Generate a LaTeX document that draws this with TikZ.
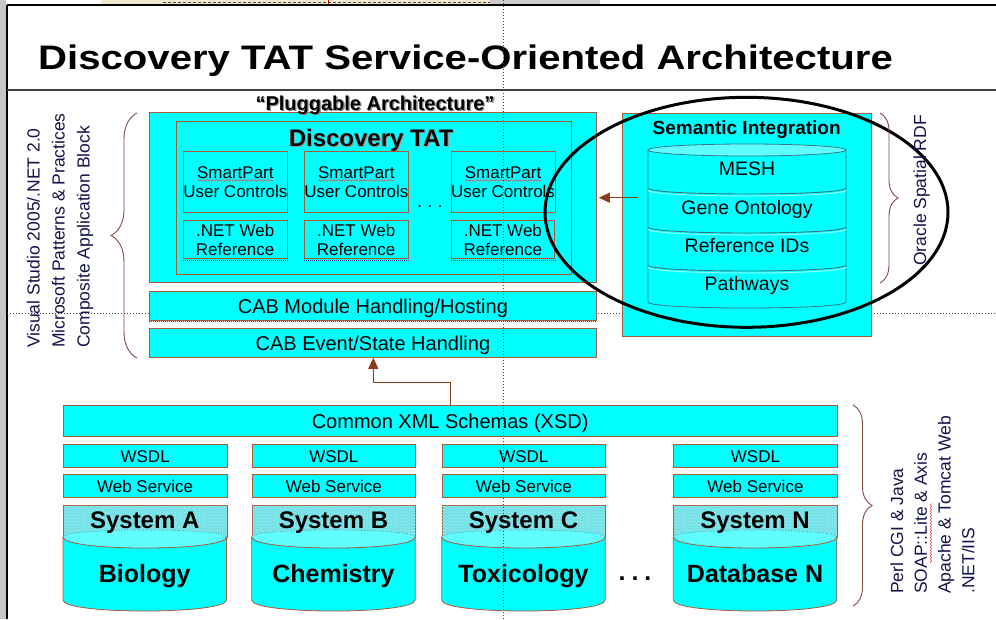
\documentclass[tikz,border=0pt]{standalone}
\usepackage{fontspec}
\setmainfont{Liberation Sans}
\usetikzlibrary{patterns,decorations.pathreplacing,decorations.pathmorphing,arrows.meta}

\definecolor{slidecyan}{RGB}{0,255,255}
\definecolor{topcyan}{RGB}{95,255,255}
\definecolor{edgebrown}{RGB}{170,90,55}
\definecolor{arrowbrown}{RGB}{140,60,30}
\definecolor{bracebrown}{RGB}{130,75,70}
\definecolor{labelnavy}{RGB}{20,20,75}
\definecolor{bandteal}{RGB}{55,120,135}
\definecolor{hatchcyan}{RGB}{120,222,228}
\definecolor{guidegray}{RGB}{70,70,70}
\definecolor{chromebeige}{RGB}{240,232,205}
\definecolor{shadowblue}{RGB}{60,60,170}

\tikzset{
  cbox/.style={draw=edgebrown, fill=slidecyan, line width=0.8pt, inner sep=0pt, anchor=north west},
  onefont/.style={font=\fontsize{20}{24}\selectfont, text height=14.3pt, text depth=0pt},
  smallfont/.style={font=\fontsize{17}{18.5}\selectfont, align=center},
  wsfont/.style={font=\fontsize{17}{20}\selectfont, text height=12.2pt, text depth=0pt},
  sysbox/.style={cbox, fill=hatchcyan, postaction={pattern=crosshatch dots, pattern color=white!55!slidecyan}},
  systext/.style={font=\fontsize{24}{28}\selectfont\bfseries, inner sep=0pt, anchor=base},
  dbtext/.style={font=\fontsize{25}{30}\selectfont\bfseries, text height=18pt, text depth=0pt, inner sep=0pt},
  bandtext/.style={font=\fontsize{19.5}{23}\selectfont, text height=14pt, text depth=0pt, inner sep=0pt},
  guide/.style={guidegray, line width=0.8pt, dash pattern=on 1pt off 2pt},
  sidebrace/.style={decorate, draw=bracebrown, line width=0.9pt},
  feed/.style={arrowbrown, line width=1pt, -{Triangle[length=11pt,width=10pt]}},
  sidelabel/.style={rotate=90, anchor=west, align=left, text=labelnavy, font=\fontsize{17.5}{24.5}\selectfont, inner sep=0pt},
  spell/.style={red!75, line width=0.5pt, decorate, decoration={snake, amplitude=0.8pt, segment length=3pt}},
  edgeshadow/.style={shadowblue, line width=0.7pt, dash pattern=on 1pt off 1pt},
}

\begin{document}
\begin{tikzpicture}[x=1pt,y=-1pt]
\useasboundingbox (0,0) rectangle (996,619);
\fill[white] (0,0) rectangle (996,619);

% window chrome along the top and left edges
\fill[gray!45] (0,0) rectangle (6,619);
\fill[chromebeige] (101,0) rectangle (490,4);
\draw[black!70, dash pattern=on 3pt off 2pt, line width=0.8pt] (163,2.5) -- (490,2.5);
\draw[red!80!black, line width=0.8pt] (328,0) -- (328,4);
\fill[gray!40] (490,0) rectangle (600,4);
\draw[black, line width=1.4pt] (7,5) -- (996,5);
\draw[black, line width=1.3pt] (7,5) -- (7,619);
\draw[black!75, line width=1.2pt] (7,90) -- (996,90);

% horizontal layout guide (behind the boxes)
\draw[guide] (7,313) -- (996,313);

% title
\node[anchor=base west, inner sep=0pt] (title) at (38,69.5)
  {\scalebox{1.18}[1]{\fontsize{34}{40}\selectfont\bfseries Discovery TAT Service-Oriented Architecture}};

% ---------- pluggable client architecture ----------
\node[cbox, minimum width=447pt, minimum height=170pt] (plug) at (149,112) {};
\node[cbox, minimum width=395pt, minimum height=153pt] (tat) at (176,121) {};

\node[anchor=base, inner sep=0pt, text=black!45, font=\fontsize{20}{24}\selectfont\bfseries] (plugshadow) at (376.3,111.3) {“Pluggable Architecture”};
\node[anchor=base, inner sep=0pt, font=\fontsize{20}{24}\selectfont\bfseries] (plugtitle) at (375,110) {“Pluggable Architecture”};

\node[anchor=base, inner sep=0pt, text=black!40, font=\fontsize{24}{28}\selectfont\bfseries] (tatshadow) at (372.2,147.7) {Discovery TAT};
\node[anchor=base, inner sep=0pt, font=\fontsize{24}{28}\selectfont\bfseries] (tattitle) at (371,146.5) {Discovery TAT};

\foreach \x/\k in {183/1, 304/2, 450.7/3} {
  \node[cbox, smallfont, minimum width=103.5pt, minimum height=61pt] (sp\k) at (\x,151) {SmartPart\\User Controls};
  \node[cbox, smallfont, minimum width=103.5pt, minimum height=38pt] (net\k) at (\x,220.3) {.NET Web\\Reference};
  \draw[edgeshadow] ([yshift=-1pt]net\k.south west) -- ([yshift=-1pt]net\k.south east);
  \draw[spell] ([xshift=-38pt,yshift=1.5pt]sp\k.center) -- ([xshift=38pt,yshift=1.5pt]sp\k.center);
}
\node[anchor=base, inner sep=0pt, font=\fontsize{17}{20}\selectfont] (tatdots) at (430,207.5) {.\hspace{5.5pt}.\hspace{5.5pt}.};

\node[cbox, onefont, minimum width=447pt, minimum height=29pt] (cabmod) at (149,291) {CAB Module Handling/Hosting};
\draw[edgeshadow] ([yshift=-1pt]cabmod.south west) -- ([yshift=-1pt]cabmod.south east);
\node[cbox, onefont, minimum width=447pt, minimum height=29pt] (cabevt) at (149,328) {CAB Event/State Handling};

% ---------- semantic integration stack ----------
\node[cbox, minimum width=249pt, minimum height=223pt] (sem) at (622,113) {};
\node[anchor=base, inner sep=0pt, font=\fontsize{19}{23}\selectfont\bfseries] (semtitle) at (746.7,134.5) {Semantic Integration};

\fill[slidecyan] (648,150) -- (648,302) .. controls (648,310) and (846,310) .. (846,302) -- (846,150) -- cycle;
\draw[bandteal, line width=0.8pt] (648,150) -- (648,302) .. controls (648,310) and (846,310) .. (846,302) -- (846,150);
\draw[bandteal, fill=topcyan, line width=0.8pt] (747,150) ellipse [x radius=99pt, y radius=6pt];
\foreach \y in {188,227,265} {
  \draw[white!55!slidecyan, line width=1pt] (648,{\y+2}) .. controls (648,{\y+10}) and (846,{\y+10}) .. (846,{\y+2});
  \draw[bandteal, line width=0.9pt] (648,\y) .. controls (648,{\y+8}) and (846,{\y+8}) .. (846,\y);
}
\node[bandtext] (mesh) at (747,168.3) {MESH};
\node[bandtext] (geneont) at (747,207) {Gene Ontology};
\node[bandtext] (refids) at (747,245) {Reference IDs};
\node[bandtext] (pathways) at (747,283) {Pathways};

\coordinate (semtap) at (638,197.7);
\draw[feed] (semtap) -- ([xshift=2pt]plug.east |- semtap);

% highlight around the semantic layer
\draw[black, line width=3pt] (746.5,212.3) ellipse [x radius=201.5pt, y radius=115pt];

% braces and their captions
\draw[sidebrace, decoration={brace, amplitude=26pt}] (137,358) -- (137,113);
\draw[sidebrace, decoration={brace, amplitude=18pt}] (880,113) -- (880,283);
\draw[sidebrace, decoration={brace, amplitude=19pt}] (853,405) -- (853,606);

\node[sidelabel, font=\fontsize{17.5}{25}\selectfont] (cablabel) at (60,348)
  {Visual Studio 2005/.NET 2.0\\Microsoft Patterns \& Practices\\Composite Application Block};
\node[sidelabel] (oracle) at (921.7,266) {Oracle Spatial RDF};
\node[sidelabel, font=\fontsize{17.5}{23.8}\selectfont] (stacklabel) at (932.5,594)
  {Perl CGI \& Java\\SOAP::Lite \& Axis\\Apache \& Tomcat Web\\.NET/IIS};
\draw[spell] (931,563) -- (931,503);

% ---------- back-end services ----------
\node[cbox, onefont, minimum width=773.5pt, minimum height=31pt] (xsd) at (63,405) {Common XML Schemas (XSD)};

\foreach \x/\sys/\db/\k in {63/System A/Biology/a, 251.7/System B/Chemistry/b, 441.7/System C/Toxicology/c, 673.3/System N/Database N/n} {
  \node[cbox, wsfont, minimum width=163.5pt, minimum height=22.5pt] (wsdl\k) at (\x,444.3) {WSDL};
  \node[cbox, wsfont, minimum width=163.5pt, minimum height=23pt] (ws\k) at (\x,474.3) {Web Service};
  \node[sysbox, minimum width=163.5pt, minimum height=31.7pt] (sys\k) at (\x,505.3) {};
  \fill[slidecyan] (\x,537) -- (\x,600) .. controls (\x,614.7) and ({\x+163.5},614.7) .. ({\x+163.5},600) -- ({\x+163.5},537) -- cycle;
  \draw[edgebrown, line width=0.8pt] (\x,537) -- (\x,600) .. controls (\x,614.7) and ({\x+163.5},614.7) .. ({\x+163.5},600) -- ({\x+163.5},537);
  \fill[topcyan] (\x,537) .. controls (\x,527.7) and ({\x+163.5},527.7) .. ({\x+163.5},537)
     .. controls ({\x+163.5},551.7) and (\x,551.7) .. (\x,537) -- cycle;
  \draw[bandteal, line width=0.7pt, dotted] (\x,537) .. controls (\x,527.7) and ({\x+163.5},527.7) .. ({\x+163.5},537);
  \draw[edgebrown, line width=0.8pt] (\x,537) .. controls (\x,551.7) and ({\x+163.5},551.7) .. ({\x+163.5},537);
  \node[systext] (syslabel\k) at ({\x+81.75},528) {\sys};
  \node[dbtext] (db\k) at ({\x+81.75},573.7) {\db};
}
\node[anchor=base, inner sep=0pt, font=\fontsize{25}{30}\selectfont\bfseries] (dbdots) at (635,580) {.\hspace{6pt}.\hspace{6pt}.};

\coordinate (xsdbend) at (373.3,382.3);
\draw[feed] (xsd.north) |- (xsdbend) -- (xsdbend |- cabevt.south);

% vertical layout guide (in front)
\draw[guide] (503,0) -- (503,619);
\end{tikzpicture}
\end{document}
